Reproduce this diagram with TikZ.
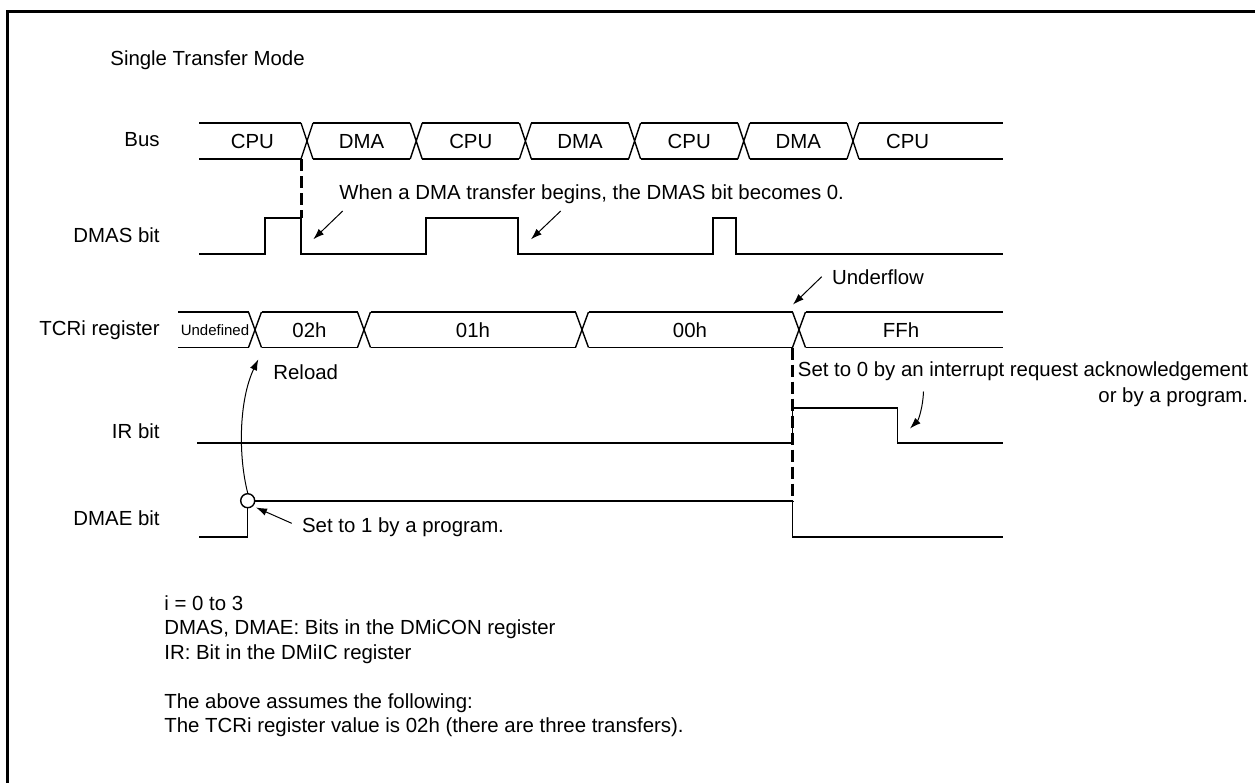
\documentclass[tikz,border=0pt]{standalone}
\usepackage{fontspec}
\setmainfont{Liberation Sans}
\usepackage{tikz}
\usetikzlibrary{arrows.meta,positioning,calc}
\definecolor{inkwave}{RGB}{0,0,0}
\definecolor{inkframe}{RGB}{0,0,0}

\begin{document}
\begin{tikzpicture}[x=0.5pt,y=-0.5pt,
    wave/.style={inkwave,line width=0.7pt},
    guide/.style={inkwave,line width=1.5pt,dash pattern=on 6pt off 2.5pt},
    pointer/.style={inkwave,line width=0.5pt,-{Latex[length=5.5pt,width=3.8pt]}},
    lbl/.style={inner sep=0pt,font=\fontsize{10.2}{12}\selectfont},
    smallval/.style={inner sep=0pt,font=\fontsize{7.5}{9}\selectfont}]
  \useasboundingbox (0,0) rectangle (1255,783);
  \draw[inkframe,line width=1.75pt] (7.5,783) -- (7.5,11.7) -- (1255,11.7);
  \node[lbl,anchor=base west] (title) at (110,65) {Single Transfer Mode};
  \foreach \y/\t [count=\i] in {146.7/Bus,242/DMAS bit,335/TCRi register,438/IR bit,525/DMAE bit}
    \node[lbl,anchor=base east] (row\i) at (160,\y) {\t};

  \foreach \t [count=\k from 0] in {CPU,DMA,CPU,DMA,CPU,DMA,CPU}{
    \pgfmathsetmacro{\c}{307+109.2*\k}
    \pgfmathsetmacro{\a}{\k==0 ? 199 : \c-103.2}
    \pgfmathsetmacro{\b}{\k==6 ? 1003 : \c-6}
    \draw[wave] (\a,123) -- (\b,123) (\a,159) -- (\b,159);
    \node[lbl,anchor=base] (bus\k) at (\c-54.6,148.3) {\t};
    \ifnum\k<6 \draw[wave] (\c-6,123) -- (\c+6,159) (\c-6,159) -- (\c+6,123); \fi
  }

  \draw[wave] (199,254) -- (265,254) -- (265,218) -- (301,218) -- (301,254) -- (426,254)
    -- (426,218) -- (518,218) -- (518,254) -- (713,254) -- (713,218) -- (736,218)
    -- (736,254) -- (1003,254);

  \foreach \c in {255,364,582,799}
    \draw[wave] (\c-6.5,312) -- (\c+6.5,347.5) (\c-6.5,347.5) -- (\c+6.5,312);
  \foreach \a/\b in {178/248.5,261.5/357.5,370.5/575.5,588.5/792.5,805.5/1003}
    \draw[wave] (\a,312) -- (\b,312) (\a,347.5) -- (\b,347.5);
  \node[smallval,anchor=base] (tcr0) at (215,335) {Undefined};
  \foreach \x/\t [count=\i] in {309.5/02h,473/01h,690/00h,901/FFh}
    \node[lbl,anchor=base] (tcr\i) at (\x,337.3) {\t};

  \draw[wave] (197,443) -- (792.5,443) -- (792.5,408) -- (897.5,408) -- (897.5,443) -- (1003,443);
  \draw[wave] (199,537) -- (247.7,537) -- (247.7,501) -- (792.5,501) -- (792.5,537) -- (1003,537);
  \node[draw,wave,circle,inner sep=0pt,minimum size=7pt,fill=white] (dmaeSet) at (247.7,500.7) {};

  \coordinate (busEdge) at (301,159);
  \coordinate (dmasFall) at (301,218);
  \draw[guide] (busEdge) -- (dmasFall);
  \coordinate (tcrEdge) at (792.5,347.5);
  \coordinate (dmaeFall) at (792.5,501);
  \draw[guide] (tcrEdge) -- (dmaeFall);

  \node[lbl,anchor=base west] (when) at (339,199.3) {When a DMA transfer begins, the DMAS bit becomes 0.};
  \coordinate (whenA) at (342.7,211);
  \coordinate (lowA) at (313.3,239.3);
  \coordinate (whenB) at (560.7,211);
  \coordinate (lowB) at (531,239.3);
  \draw[pointer] (whenA) -- (lowA);
  \draw[pointer] (whenB) -- (lowB);

  \node[lbl,anchor=base west] (under) at (831.7,284) {Underflow};
  \coordinate (underTail) at (821.7,276.7);
  \coordinate (underTip) at (793,304.5);
  \draw[pointer] (underTail) -- (underTip);

  \node[lbl,anchor=base west] (reload) at (273,379) {Reload};
  \coordinate (reloadTip) at (258.3,359.3);
  \draw[pointer] (dmaeSet.north) .. controls (238,455) and (239,400) .. (reloadTip);

  \node[lbl,anchor=base west] (set1) at (301.7,532.7) {Set to 1 by a program.};
  \coordinate (set1Tail) at (291.7,523.3);
  \coordinate (dmaeRise) at (256,507.5);
  \draw[pointer] (set1Tail) -- (dmaeRise);

  \node[lbl,anchor=base west] (set0a) at (797.5,376) {Set to 0 by an interrupt request acknowledgement};
  \node[lbl,anchor=base east] (set0b) at ([yshift=-13pt]set0a.base east) {or by a program.};
  \coordinate (set0Tail) at (923.5,391.5);
  \coordinate (irFall) at (910,428.5);
  \draw[pointer] (set0Tail) .. controls (923,407) and (918.5,420) .. (irFall);

  \foreach \y/\t [count=\i] in {610/{i = 0 to 3},634.5/{DMAS, DMAE: Bits in the DMiCON register},659/{IR: Bit in the DMiIC register},708/{The above assumes the following:},732.5/{The TCRi register value is 02h (there are three transfers).}}
    \node[lbl,anchor=base west] (note\i) at (164,\y) {\t};
\end{tikzpicture}
\end{document}
